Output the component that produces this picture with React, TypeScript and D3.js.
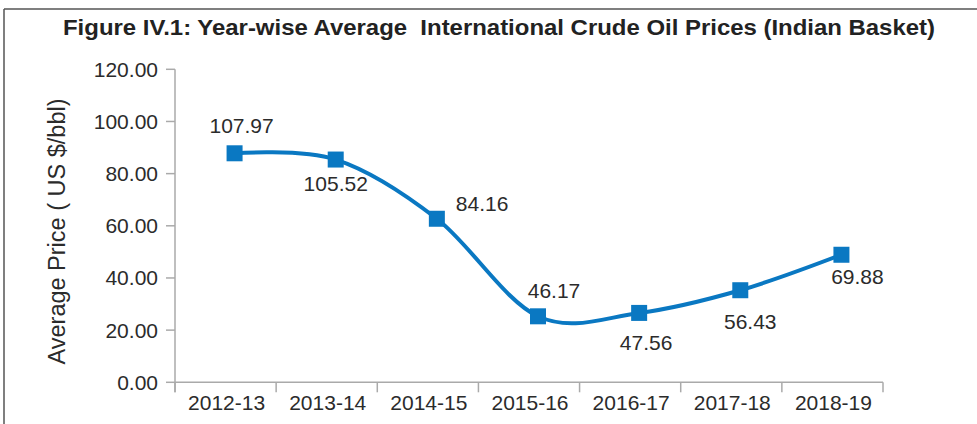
import React from "react";
import * as d3 from "d3";

const categories = ["2012-13", "2013-14", "2014-15", "2015-16", "2016-17", "2017-18", "2018-19"];
// plotted positions (as drawn in the reference)
const plotted = [87.8, 85.4, 62.7, 25.3, 26.6, 35.3, 48.9];
// data labels as printed
const labels = ["107.97", "105.52", "84.16", "46.17", "47.56", "56.43", "69.88"];
const yTicks = [0, 20, 40, 60, 80, 100, 120];

// label placement offsets relative to marker (dx, dy, anchor)
const labelPlace: [number, number, string][] = [
  [7, -20, "middle"],
  [0, 31, "middle"],
  [19, -8, "start"],
  [16, -18, "middle"],
  [7, 37, "middle"],
  [10, 39, "middle"],
  [16, 29, "middle"],
];

const W = 977, H = 424;
const left = 175, right = 883, top = 69.3, bottom = 382.3;
const FONT = "'Liberation Sans', Arial, Helvetica, sans-serif";
const BLUE = "#0a78c2";
const AXIS = "#aaaaaa";
const TEXT = "#2b2b2b";

export default function App() {
  const x = d3.scaleBand().domain(categories).range([left, right]).padding(0);
  const y = d3.scaleLinear().domain([0, 120]).range([bottom, top]);
  const px = (c: string) => (x(c) as number) + x.bandwidth() / 2 + 9;
  const pts: [number, number][] = categories.map((c, i) => [px(c), y(plotted[i])]);
  const line = d3.line().curve(d3.curveCardinal.tension(0))(pts) as string;
  const boundaries = [left, ...categories.map((c) => (x(c) as number) + x.bandwidth())];

  return (
    <svg width={W} height={H} style={{ position: "absolute", left: 0, top: 0, background: "#fff" }}>
      <rect x={0} y={0} width={W} height={H} fill="#fff" />
      {/* frame */}
      <line x1={4} y1={9} x2={W} y2={9} stroke="#555" strokeWidth={1.5} />
      <line x1={4} y1={9} x2={4} y2={H} stroke="#555" strokeWidth={1.5} />
      <text x={499} y={35} textAnchor="middle" fontFamily={FONT} fontWeight="bold" fontSize={22}
        fill="#222" textLength={872} lengthAdjust="spacingAndGlyphs" style={{ whiteSpace: "pre" }}>
        {"Figure IV.1: Year-wise Average  International Crude Oil Prices (Indian Basket)"}
      </text>
      {/* y axis */}
      <line x1={left} y1={top} x2={left} y2={bottom + 10} stroke={AXIS} strokeWidth={1.5} />
      {yTicks.map((t) => (
        <g key={t}>
          <line x1={left - 9} x2={left} y1={y(t)} y2={y(t)} stroke={AXIS} strokeWidth={1.5} />
          <text x={158} y={y(t) + 7.4} textAnchor="end" fontFamily={FONT} fontSize={21} fill={TEXT}>
            {t.toFixed(2)}
          </text>
        </g>
      ))}
      <text transform={`translate(65,231.5) rotate(-90)`} textAnchor="middle" fontFamily={FONT}
        fontSize={23.5} fill={TEXT}>
        Average Price ( US $/bbl)
      </text>
      {/* x axis */}
      <line x1={left} x2={right} y1={bottom} y2={bottom} stroke={AXIS} strokeWidth={1.5} />
      {boundaries.map((b, i) => (
        <line key={i} x1={b} x2={b} y1={bottom} y2={bottom + 10} stroke={AXIS} strokeWidth={1.5} />
      ))}
      {categories.map((c) => (
        <text key={c} x={(x(c) as number) + x.bandwidth() / 2 + 1} y={410} textAnchor="middle"
          fontFamily={FONT} fontSize={21} fill={TEXT}>
          {c}
        </text>
      ))}
      {/* series */}
      <path d={line} fill="none" stroke={BLUE} strokeWidth={4} />
      {pts.map((p, i) => (
        <rect key={i} x={p[0] - 8} y={p[1] - 8} width={16} height={16} fill={BLUE} />
      ))}
      {pts.map((p, i) => (
        <text key={"l" + i} x={p[0] + labelPlace[i][0]} y={p[1] + labelPlace[i][1]}
          textAnchor={labelPlace[i][2] as any} fontFamily={FONT} fontSize={21} fill={TEXT}>
          {labels[i]}
        </text>
      ))}
    </svg>
  );
}
